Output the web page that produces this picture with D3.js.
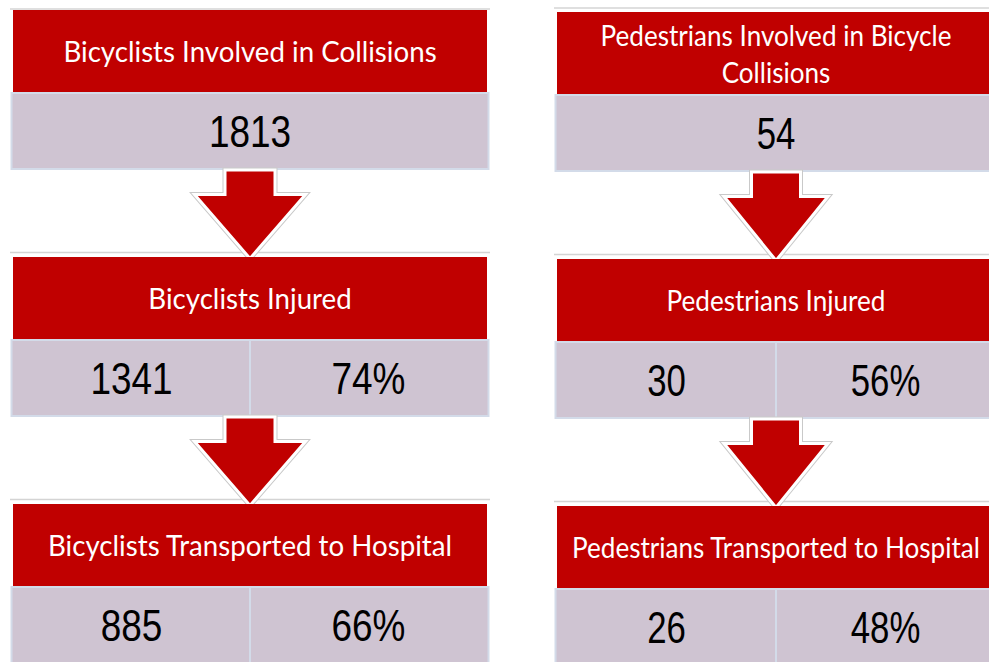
<!DOCTYPE html>
<html><head><meta charset="utf-8">
<script src="https://cdn.jsdelivr.net/npm/d3@7"></script>
<style>html,body{margin:0;padding:0;background:#fff;overflow:hidden}</style>
</head><body><svg id="c" width="989" height="662"></svg>
<script>
// ---- data ----
const stages = ["collisions", "injured", "hospital"];
const bicyclistTitles = [["Bicyclists Involved in Collisions"], ["Bicyclists Injured"], ["Bicyclists Transported to Hospital"]];
const pedestrianTitles = [["Pedestrians Involved in Bicycle", "Collisions"], ["Pedestrians Injured"], ["Pedestrians Transported to Hospital"]];
const bicyclistCounts = [1813, 1341, 885];
const bicyclistPercents = [null, 74, 66];
const pedestrianCounts = [54, 30, 26];
const pedestrianPercents = [null, 56, 48];

// ---- style/layout ----
const W = 989;
const RED = "#c00000", CELL = "#cfc4d2", CELLBORDER = "#d3dbe9", RULE = "#d4d4d4";
const svg = d3.select("#c");
const headerH = 83, valueH = 76, headLen = 64;

const panels = [
  {titles: bicyclistTitles, counts: bicyclistCounts, pcts: bicyclistPercents, x0: 13, x1: 487, top: 10, ruleTop: 9,
   headSquash: 0.955, numSquash: 0.84, headW: 111, shaftW: 50},
  {titles: pedestrianTitles, counts: pedestrianCounts, pcts: pedestrianPercents, x0: 557, x1: 995, top: 12, ruleTop: 8,
   headSquash: 0.9, numSquash: 0.79, headW: 104, shaftW: 49}
];

panels.forEach(p => {
  const y = d3.scaleLinear().domain([0, stages.length - 1]).range([p.top, p.top + 494]);
  const x = d3.scaleLinear().domain([0, 1]).range([p.x0, p.x1]);
  const xr = v => Math.min(x(v), W); // clip to page edge
  const g = svg.append("g");
  const cx = x(0.5);

  // rules
  g.append("line").attr("x1", x(0) - 3).attr("x2", Math.min(x(1) + 3, W))
    .attr("y1", p.ruleTop).attr("y2", p.ruleTop).attr("stroke", RULE).attr("stroke-width", 1.5);
  stages.forEach((s, i) => {
    if (i > 0) g.append("line").attr("x1", x(0) - 3).attr("x2", Math.min(x(1) + 3, W))
      .attr("y1", y(i) - 4.5).attr("y2", y(i) - 4.5).attr("stroke", RULE).attr("stroke-width", 1.5);
  });

  stages.forEach((s, i) => {
    const top = y(i);
    // header
    g.append("rect").attr("x", x(0)).attr("y", top).attr("width", xr(1) - x(0)).attr("height", headerH).attr("fill", RED);
    const lines = p.titles[i];
    const lh = 37;
    lines.forEach((t, k) => {
      const base = top + headerH / 2 + 10.5 + (k - (lines.length - 1) / 2) * lh;
      g.append("text").attr("transform", `translate(${cx},${base}) scale(${p.headSquash},1)`)
        .attr("text-anchor", "middle")
        .attr("fill", "#fff").style("font-family", "Lato, 'Open Sans', sans-serif").style("font-size", "29px").text(t);
    });
    // value row
    const vt = top + headerH;
    const cells = p.pcts[i] == null ? [{a: 0, b: 1, t: String(p.counts[i])}]
      : [{a: 0, b: 0.5, t: String(p.counts[i])}, {a: 0.5, b: 1, t: p.pcts[i] + "%"}];
    cells.forEach(c => {
      const left = x(c.a) - (c.a === 0 ? 1.5 : 0);
      const right = c.b === 1 ? Math.min(x(c.b) + 1.5, W + 2) : x(c.b);
      g.append("rect").attr("x", left).attr("y", vt)
        .attr("width", right - left).attr("height", valueH)
        .attr("fill", CELL).attr("stroke", CELLBORDER).attr("stroke-width", 2);
      g.append("text").attr("transform", `translate(${(x(c.a) + x(c.b)) / 2},${vt + valueH / 2 + 15.5}) scale(${p.numSquash},1)`)
        .attr("text-anchor", "middle").attr("fill", "#000")
        .style("font-family", "'Liberation Sans', Arial, sans-serif")
        .style("font-size", "44px").text(c.t);
    });
    // arrow to next stage
    if (i < stages.length - 1) {
      const y0 = vt + valueH + 1, tip = y(i + 1) + 1.5, yh = tip - headLen;
      const sw = p.shaftW, hw = p.headW;
      const d = `M${cx - sw / 2},${y0} L${cx + sw / 2},${y0} L${cx + sw / 2},${yh} L${cx + hw / 2},${yh} L${cx},${tip} L${cx - hw / 2},${yh} L${cx - sw / 2},${yh} Z`;
      g.append("path").attr("d", d).attr("fill", "none").attr("stroke", "#c9c9c9").attr("stroke-width", 5).attr("stroke-linejoin", "miter");
      g.append("path").attr("d", d).attr("fill", RED).attr("stroke", "#fff").attr("stroke-width", 3).attr("stroke-linejoin", "miter");
    }
  });
});
</script></body></html>
